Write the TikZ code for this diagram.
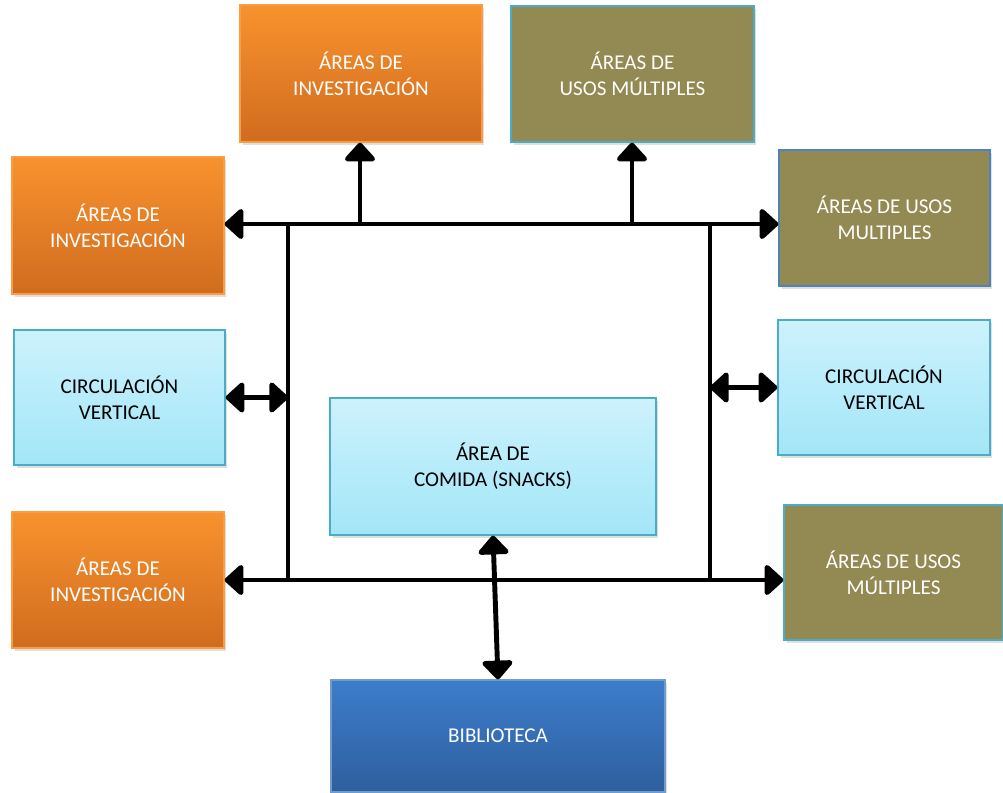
\documentclass[tikz,border=0pt]{standalone}
\usepackage{fontspec}
\setmainfont{Carlito}
\usetikzlibrary{arrows.meta,shadows}

\definecolor{naranja}{HTML}{F8922E}
\definecolor{naranjaosc}{HTML}{D06C1F}
\definecolor{oliva}{HTML}{938953}
\definecolor{celeste}{HTML}{CDF2FC}
\definecolor{celesteosc}{HTML}{A2E6F8}
\definecolor{azul}{HTML}{3C7DCB}
\definecolor{azulosc}{HTML}{2F5F9E}
\definecolor{borde}{HTML}{4BACC6}
\definecolor{bordeazul}{HTML}{4F81BD}

\begin{document}
\begin{tikzpicture}[x=0.02cm,y=-0.02cm,font=\fontsize{12}{14.8}\selectfont,
  caja/.style={align=center,draw,line width=0.8pt,
    drop shadow={opacity=.25,shadow xshift=.5mm,shadow yshift=-.6mm}},
  inv/.style={caja,draw=naranja!90!white,top color=naranja,bottom color=naranjaosc,text=white},
  usos/.style={caja,draw=borde,fill=oliva,text=white},
  circ/.style={caja,draw=borde,top color=celeste,bottom color=celesteosc},
  flecha/.style={line width=2.8pt,{Triangle[length=0.4cm,width=0.7cm,round]}-{Triangle[length=0.4cm,width=0.7cm,round]}},
  ida/.style={line width=2.8pt,-{Triangle[length=0.4cm,width=0.7cm,round]}}]
\useasboundingbox (0,0) rectangle (1003,792);

\node[inv,minimum width=4.84cm,minimum height=2.74cm] (invT) at (361,73.5) {ÁREAS DE\\INVESTIGACIÓN};
\node[usos,minimum width=4.86cm,minimum height=2.72cm] (usosT) at (632.5,74) {ÁREAS DE\\USOS MÚLTIPLES};
\node[inv,minimum width=4.24cm,minimum height=2.74cm] (invL1) at (118,225.5) {ÁREAS DE\\INVESTIGACIÓN};
\node[usos,draw=bordeazul,minimum width=4.22cm,minimum height=2.72cm] (usosR1) at (884.5,218) {ÁREAS DE USOS\\MULTIPLES};
\node[circ,minimum width=4.22cm,minimum height=2.7cm] (circL) at (119.5,397.5) {CIRCULACIÓN\\VERTICAL};
\node[circ,minimum width=4.24cm,minimum height=2.7cm] (circR) at (884,387.5) {CIRCULACIÓN\\VERTICAL};
\node[circ,minimum width=6.52cm,minimum height=2.74cm] (comida) at (493,466.5) {ÁREA DE\\COMIDA (SNACKS)};
\node[inv,minimum width=4.24cm,minimum height=2.72cm] (invL2) at (118,580) {ÁREAS DE\\INVESTIGACIÓN};
\node[usos,minimum width=4.38cm,minimum height=2.7cm] (usosR2) at (893.5,572.5) {ÁREAS DE USOS\\MÚLTIPLES};
\node[caja,draw=bordeazul!80!white,top color=azul,bottom color=azulosc,text=white,
  minimum width=6.68cm,minimum height=2.24cm] (biblio) at (498,736) {BIBLIOTECA};

% esquinas del pasillo
\coordinate (tl) at (288,224);
\coordinate (tr) at (710,224);
\coordinate (bl) at (288,580);
\coordinate (br) at (710,580);
\coordinate (s1) at (360,224);
\coordinate (s2) at (632,224);

\draw[flecha] (invL1.east |- tl) -- (usosR1.west |- tr);
\draw[flecha] (invL2.east |- bl) -- (usosR2.west |- br);
\foreach \a/\b in {tl/bl,tr/br}{\draw[line width=2.8pt] (\a) -- (\b);}
\draw[ida] (s1) -- (s1 |- invT.south);
\draw[ida] (s2) -- (s2 |- usosT.south);
\draw[flecha] (circL.east) -- (circL.east -| bl);
\draw[flecha] (circR.west -| br) -- (circR.west);
\draw[flecha] (comida.south) -- (biblio.north);
\end{tikzpicture}
\end{document}
